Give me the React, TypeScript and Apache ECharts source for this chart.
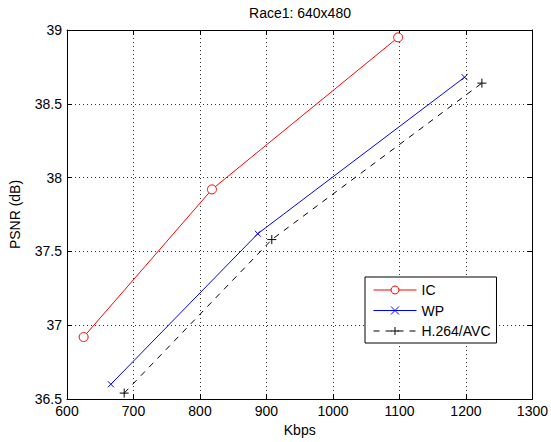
import React, { useEffect, useRef } from "react";
import * as echarts from "echarts";

const xTicks = [600, 700, 800, 900, 1000, 1100, 1200, 1300];
const yTicks = [36.5, 37, 37.5, 38, 38.5, 39];
const icData: [number, number][] = [[625, 36.92], [818, 37.92], [1098, 38.95]];
const wpData: [number, number][] = [[666, 36.6], [887, 37.62], [1198, 38.68]];
const avcData: [number, number][] = [[686, 36.54], [908, 37.58], [1224, 38.64]];
const seriesNames = ["IC", "WP", "H.264/AVC"];
const seriesColors = ["#ff0000", "#0000ff", "#000000"];
const titleText = "Race1: 640x480";

const FONT = "Liberation Sans, Arial, sans-serif";

export default function App() {
  const ref = useRef<HTMLDivElement>(null);
  useEffect(() => {
    document.body.style.margin = "0";
    const chart = echarts.init(ref.current!, null, { renderer: "svg" });
    const grid = { left: 65, right: 16, top: 30, bottom: 43 };
    const axisCommon = {
      axisLine: { show: true, lineStyle: { color: "#000", width: 1 } },
      axisTick: { show: true, inside: true, length: 5, lineStyle: { color: "#000" } },
    };
    const xMin = xTicks[0];
    const xMax = xTicks[xTicks.length - 1];
    const yMin = yTicks[0];
    const yMax = yTicks[yTicks.length - 1];
    chart.setOption({
      animation: false,
      backgroundColor: "#fff",
      textStyle: { fontFamily: FONT },
      grid,
      graphic: [
        {
          type: "text",
          x: 300,
          y: 13,
          style: {
            text: titleText,
            fontFamily: FONT,
            fontSize: 14,
            fill: "#000",
            textAlign: "center",
            textVerticalAlign: "middle",
          },
        },
      ],
      xAxis: [
        {
          type: "value",
          min: xMin,
          max: xMax,
          interval: 100,
          name: "Kbps",
          nameLocation: "middle",
          nameGap: 23,
          nameTextStyle: { fontFamily: FONT, fontSize: 14, color: "#000" },
          ...axisCommon,
          axisLabel: {
            fontFamily: FONT,
            fontSize: 14,
            color: "#000",
            margin: 5,
            formatter: (v: number) => String(v),
          },
          splitLine: { show: true, lineStyle: { color: "#333", type: [1, 3], width: 1 } },
        },
        {
          type: "value",
          position: "top",
          min: xMin,
          max: xMax,
          interval: 100,
          ...axisCommon,
          axisLabel: { show: false },
          splitLine: { show: false },
        },
      ],
      yAxis: [
        {
          type: "value",
          min: yMin,
          max: yMax,
          interval: 0.5,
          name: "PSNR (dB)",
          nameLocation: "middle",
          nameGap: 45,
          nameTextStyle: { fontFamily: FONT, fontSize: 14, color: "#000" },
          ...axisCommon,
          axisLabel: { fontFamily: FONT, fontSize: 14, color: "#000", margin: 5 },
          splitLine: { show: true, lineStyle: { color: "#333", type: [1, 3], width: 1 } },
        },
        {
          type: "value",
          position: "right",
          min: yMin,
          max: yMax,
          interval: 0.5,
          ...axisCommon,
          axisLabel: { show: false },
          splitLine: { show: false },
        },
      ],
      legend: {
        orient: "vertical",
        left: 365,
        top: 277,
        data: seriesNames.map((n, i) => ({
          name: n,
          itemStyle: {
            color: i === 0 ? "#fff" : seriesColors[i],
            borderColor: seriesColors[i],
            borderWidth: 1,
          },
        })),
        itemWidth: 43,
        itemHeight: 10,
        itemGap: 6.5,
        padding: [6, 6, 5, 8],
        borderColor: "#000",
        borderWidth: 1,
        backgroundColor: "#fff",
        lineStyle: { width: 1 },
        textStyle: { fontFamily: FONT, fontSize: 14, color: "#000" },
      },
      series: [
        {
          name: seriesNames[0],
          type: "line",
          data: icData,
          symbol: "circle",
          symbolSize: 9,
          lineStyle: { color: seriesColors[0], width: 1 },
          itemStyle: { color: "#fff", borderColor: seriesColors[0], borderWidth: 1 },
        },
        {
          name: seriesNames[1],
          type: "line",
          data: wpData,
          symbol: "path://M0,0L10,10M10,0L0,10",
          symbolSize: 6,
          lineStyle: { color: seriesColors[1], width: 1 },
          itemStyle: { color: seriesColors[1], borderColor: seriesColors[1], borderWidth: 1 },
        },
        {
          name: seriesNames[2],
          type: "line",
          data: avcData,
          symbol: "path://M5,0L5,10M0,5L10,5",
          symbolSize: 9,
          lineStyle: { color: seriesColors[2], width: 1, type: [6, 6] },
          itemStyle: { color: seriesColors[2], borderColor: seriesColors[2], borderWidth: 1 },
        },
      ],
    });
    return () => chart.dispose();
  }, []);
  return <div ref={ref} style={{ width: 551, height: 442 }} />;
}
